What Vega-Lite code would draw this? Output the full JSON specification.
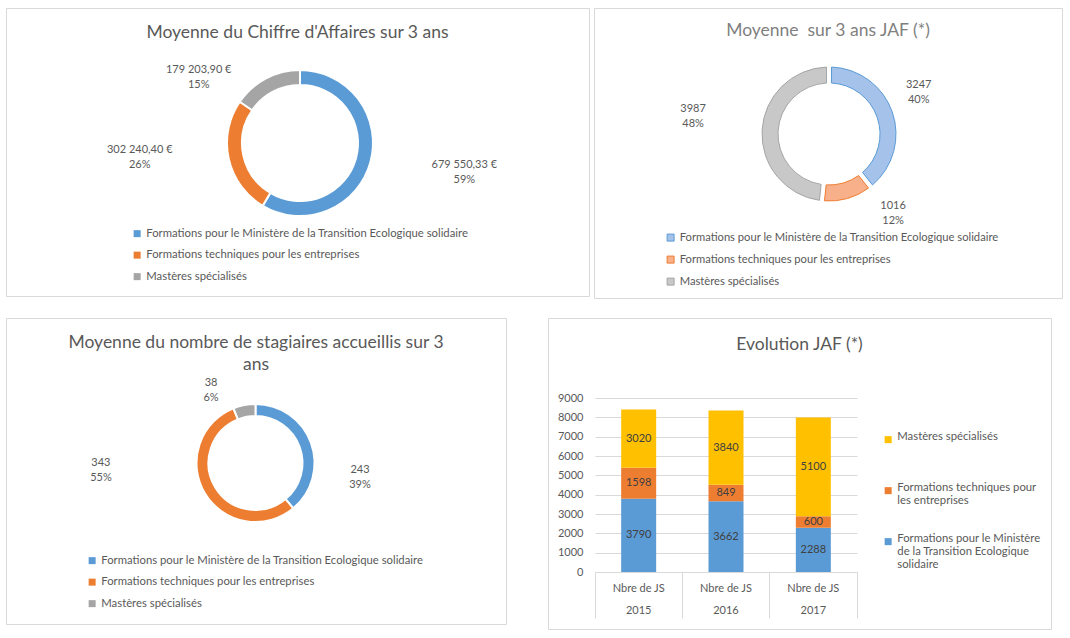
{
  "$schema": "https://vega.github.io/schema/vega-lite/v6.json",
  "background": "white",
  "padding": {"left": 5, "top": 7, "right": 0, "bottom": 0},
  "datasets": {
    "ca": [
      {"cat": "Formations pour le Ministère de la Transition Ecologique solidaire", "value": 679550.33, "pct": 0.59},
      {"cat": "Formations techniques pour les entreprises", "value": 302240.40, "pct": 0.26},
      {"cat": "Mastères spécialisés", "value": 179203.90, "pct": 0.15}
    ],
    "jaf": [
      {"cat": "Formations pour le Ministère de la Transition Ecologique solidaire", "value": 3247, "pct": 0.40},
      {"cat": "Formations techniques pour les entreprises", "value": 1016, "pct": 0.12},
      {"cat": "Mastères spécialisés", "value": 3987, "pct": 0.48}
    ],
    "stag": [
      {"cat": "Formations pour le Ministère de la Transition Ecologique solidaire", "value": 243, "pct": 0.39},
      {"cat": "Formations techniques pour les entreprises", "value": 343, "pct": 0.55},
      {"cat": "Mastères spécialisés", "value": 38, "pct": 0.06}
    ],
    "evol": [
      {"year": "2015", "cat": "Formations pour le Ministère de la Transition Ecologique solidaire", "value": 3790},
      {"year": "2015", "cat": "Formations techniques pour les entreprises", "value": 1598},
      {"year": "2015", "cat": "Mastères spécialisés", "value": 3020},
      {"year": "2016", "cat": "Formations pour le Ministère de la Transition Ecologique solidaire", "value": 3662},
      {"year": "2016", "cat": "Formations techniques pour les entreprises", "value": 849},
      {"year": "2016", "cat": "Mastères spécialisés", "value": 3840},
      {"year": "2017", "cat": "Formations pour le Ministère de la Transition Ecologique solidaire", "value": 2288},
      {"year": "2017", "cat": "Formations techniques pour les entreprises", "value": 600},
      {"year": "2017", "cat": "Mastères spécialisés", "value": 5100}
    ]
  },
  "spacing": 18,
  "resolve": {"scale": {"color": "independent", "fill": "independent", "stroke": "independent", "theta": "independent", "x": "independent", "y": "independent"}, "legend": {"color": "independent", "fill": "independent", "stroke": "independent"}},
  "vconcat": [
    {
      "spacing": 3,
      "resolve": {"scale": {"color": "independent", "fill": "independent", "stroke": "independent", "theta": "independent"}, "legend": {"color": "independent", "fill": "independent", "stroke": "independent"}},
      "hconcat": [
        {
          "width": 583, "height": 288,
          "view": {"stroke": "#D9D9D9"},
          "title": {"text": "Moyenne du Chiffre d'Affaires sur 3 ans", "offset": -33},
          "data": {"name": "ca"},
          "encoding": {
            "theta": {"field": "value", "type": "quantitative", "stack": true},
            "order": {"field": "cat", "type": "ordinal", "sort": "ascending"}
          },
          "layer": [
            {
              "mark": {"type": "arc", "innerRadius": 58, "outerRadius": 73, "stroke": "#FFFFFF", "strokeWidth": 2, "xOffset": 2.5, "yOffset": -9},
              "encoding": {
                "color": {"field": "cat", "type": "nominal",
                  "scale": {"domain": ["Formations pour le Ministère de la Transition Ecologique solidaire", "Formations techniques pour les entreprises", "Mastères spécialisés"], "range": ["#5B9BD5", "#ED7D31", "#A5A5A5"]},
                  "legend": {"orient": "none", "legendX": 125.5, "legendY": 220, "title": null, "rowPadding": 9.5}}
              }
            },
            {"mark": {"type": "text", "clip": true, "radius": 160, "xOffset": 2.5, "yOffset": -9, "dx": 10, "dy": -20.5},
             "encoding": {"detail": {"field": "cat"}, "text": {"condition": {"test": "datum.cat == 'Formations pour le Ministère de la Transition Ecologique solidaire'", "field": "value", "type": "quantitative", "format": "$,.2f"}, "value": ""}}},
            {"mark": {"type": "text", "clip": true, "radius": 160, "xOffset": 2.5, "yOffset": -9, "dx": 10, "dy": -5.5},
             "encoding": {"detail": {"field": "cat"}, "text": {"condition": {"test": "datum.cat == 'Formations pour le Ministère de la Transition Ecologique solidaire'", "field": "pct", "type": "quantitative", "format": ".0%"}, "value": ""}}},
            {"mark": {"type": "text", "clip": true, "radius": 160, "xOffset": 2.5, "yOffset": -9, "dx": -4, "dy": -27.4},
             "encoding": {"detail": {"field": "cat"}, "text": {"condition": {"test": "datum.cat == 'Formations techniques pour les entreprises'", "field": "value", "type": "quantitative", "format": "$,.2f"}, "value": ""}}},
            {"mark": {"type": "text", "clip": true, "radius": 160, "xOffset": 2.5, "yOffset": -9, "dx": -4, "dy": -12.4},
             "encoding": {"detail": {"field": "cat"}, "text": {"condition": {"test": "datum.cat == 'Formations techniques pour les entreprises'", "field": "pct", "type": "quantitative", "format": ".0%"}, "value": ""}}},
            {"mark": {"type": "text", "clip": true, "radius": 110, "xOffset": 2.5, "yOffset": -9, "dx": -50, "dy": 24.3},
             "encoding": {"detail": {"field": "cat"}, "text": {"condition": {"test": "datum.cat == 'Mastères spécialisés'", "field": "value", "type": "quantitative", "format": "$,.2f"}, "value": ""}}},
            {"mark": {"type": "text", "clip": true, "radius": 110, "xOffset": 2.5, "yOffset": -9, "dx": -50, "dy": 39.3},
             "encoding": {"detail": {"field": "cat"}, "text": {"condition": {"test": "datum.cat == 'Mastères spécialisés'", "field": "pct", "type": "quantitative", "format": ".0%"}, "value": ""}}}
          ]
        },
        {
          "width": 468, "height": 290,
          "view": {"stroke": "#D9D9D9"},
          "title": {"text": "Moyenne\u00a0 sur 3 ans JAF (*)", "offset": -31.5, "color": "#7F7F7F"},
          "data": {"name": "jaf"},
          "encoding": {
            "theta": {"field": "value", "type": "quantitative", "stack": true},
            "order": {"field": "cat", "type": "ordinal", "sort": "ascending"}
          },
          "layer": [
            {
              "mark": {"type": "arc", "innerRadius": 51, "outerRadius": 67, "padAngle": 0.06, "strokeWidth": 1, "xOffset": 1, "yOffset": -19},
              "encoding": {
                "fill": {"field": "cat", "type": "nominal",
                  "scale": {"domain": ["Formations pour le Ministère de la Transition Ecologique solidaire", "Formations techniques pour les entreprises", "Mastères spécialisés"], "range": ["#A4C2EA", "#F8B08A", "#C8C8C8"]},
                  "legend": {"orient": "none", "legendX": 71, "legendY": 224, "title": null, "rowPadding": 9, "symbolStrokeWidth": 1, "labelFontSize": 11.2}},
                "stroke": {"field": "cat", "type": "nominal",
                  "scale": {"domain": ["Formations pour le Ministère de la Transition Ecologique solidaire", "Formations techniques pour les entreprises", "Mastères spécialisés"], "range": ["#5B9BD5", "#ED7D31", "#A5A5A5"]},
                  "legend": {"orient": "none", "legendX": 71, "legendY": 224, "title": null, "rowPadding": 9, "symbolStrokeWidth": 1, "labelFontSize": 11.2}}
              }
            },
            {"mark": {"type": "text", "clip": true, "radius": 99, "xOffset": 1, "yOffset": -19, "dx": -3.8, "dy": -16.8},
             "encoding": {"detail": {"field": "cat"}, "text": {"condition": {"test": "datum.cat == 'Formations pour le Ministère de la Transition Ecologique solidaire'", "field": "value", "type": "quantitative", "format": "d"}, "value": ""}}},
            {"mark": {"type": "text", "clip": true, "radius": 99, "xOffset": 1, "yOffset": -19, "dx": -3.8, "dy": -1.8},
             "encoding": {"detail": {"field": "cat"}, "text": {"condition": {"test": "datum.cat == 'Formations pour le Ministère de la Transition Ecologique solidaire'", "field": "pct", "type": "quantitative", "format": ".0%"}, "value": ""}}},
            {"mark": {"type": "text", "clip": true, "radius": 102, "xOffset": 1, "yOffset": -19, "dx": 35.7, "dy": -26.1},
             "encoding": {"detail": {"field": "cat"}, "text": {"condition": {"test": "datum.cat == 'Formations techniques pour les entreprises'", "field": "value", "type": "quantitative", "format": "d"}, "value": ""}}},
            {"mark": {"type": "text", "clip": true, "radius": 102, "xOffset": 1, "yOffset": -19, "dx": 35.7, "dy": -11.1},
             "encoding": {"detail": {"field": "cat"}, "text": {"condition": {"test": "datum.cat == 'Formations techniques pour les entreprises'", "field": "pct", "type": "quantitative", "format": ".0%"}, "value": ""}}},
            {"mark": {"type": "text", "clip": true, "radius": 137, "xOffset": 1, "yOffset": -19, "dx": 0.9, "dy": -17.8},
             "encoding": {"detail": {"field": "cat"}, "text": {"condition": {"test": "datum.cat == 'Mastères spécialisés'", "field": "value", "type": "quantitative", "format": "d"}, "value": ""}}},
            {"mark": {"type": "text", "clip": true, "radius": 137, "xOffset": 1, "yOffset": -19, "dx": 0.9, "dy": -2.8},
             "encoding": {"detail": {"field": "cat"}, "text": {"condition": {"test": "datum.cat == 'Mastères spécialisés'", "field": "pct", "type": "quantitative", "format": ".0%"}, "value": ""}}}
          ]
        }
      ]
    },
    {
      "spacing": 40,
      "resolve": {"scale": {"color": "independent", "fill": "independent", "stroke": "independent", "theta": "independent", "x": "independent", "y": "independent"}, "legend": {"color": "independent", "fill": "independent", "stroke": "independent"}},
      "hconcat": [
        {
          "width": 500, "height": 306,
          "view": {"stroke": "#D9D9D9"},
          "title": {"text": ["Moyenne du nombre de stagiaires accueillis sur 3", "ans"], "offset": -55.5, "lineHeight": 22},
          "data": {"name": "stag"},
          "encoding": {
            "theta": {"field": "value", "type": "quantitative", "stack": true},
            "order": {"field": "cat", "type": "ordinal", "sort": "ascending"}
          },
          "layer": [
            {
              "mark": {"type": "arc", "innerRadius": 47, "outerRadius": 59, "stroke": "#FFFFFF", "strokeWidth": 2, "xOffset": -0.5, "yOffset": -8},
              "encoding": {
                "color": {"field": "cat", "type": "nominal",
                  "scale": {"domain": ["Formations pour le Ministère de la Transition Ecologique solidaire", "Formations techniques pour les entreprises", "Mastères spécialisés"], "range": ["#5B9BD5", "#ED7D31", "#A5A5A5"]},
                  "legend": {"orient": "none", "legendX": 80.5, "legendY": 237, "title": null, "rowPadding": 9.5}}
              }
            },
            {"mark": {"type": "text", "clip": true, "radius": 105.5, "xOffset": -0.5, "yOffset": -8, "dx": 5.3, "dy": 42.9},
             "encoding": {"detail": {"field": "cat"}, "text": {"condition": {"test": "datum.cat == 'Formations pour le Ministère de la Transition Ecologique solidaire'", "field": "value", "type": "quantitative", "format": "d"}, "value": ""}}},
            {"mark": {"type": "text", "clip": true, "radius": 105.5, "xOffset": -0.5, "yOffset": -8, "dx": 5.3, "dy": 57.9},
             "encoding": {"detail": {"field": "cat"}, "text": {"condition": {"test": "datum.cat == 'Formations pour le Ministère de la Transition Ecologique solidaire'", "field": "pct", "type": "quantitative", "format": ".0%"}, "value": ""}}},
            {"mark": {"type": "text", "clip": true, "radius": 154.7, "xOffset": -0.5, "yOffset": -8, "dx": -21.8, "dy": -79.4},
             "encoding": {"detail": {"field": "cat"}, "text": {"condition": {"test": "datum.cat == 'Formations techniques pour les entreprises'", "field": "value", "type": "quantitative", "format": "d"}, "value": ""}}},
            {"mark": {"type": "text", "clip": true, "radius": 154.7, "xOffset": -0.5, "yOffset": -8, "dx": -21.8, "dy": -64.4},
             "encoding": {"detail": {"field": "cat"}, "text": {"condition": {"test": "datum.cat == 'Formations techniques pour les entreprises'", "field": "pct", "type": "quantitative", "format": ".0%"}, "value": ""}}},
            {"mark": {"type": "text", "clip": true, "radius": 85.1, "xOffset": -0.5, "yOffset": -8, "dx": -28.3, "dy": 3.5},
             "encoding": {"detail": {"field": "cat"}, "text": {"condition": {"test": "datum.cat == 'Mastères spécialisés'", "field": "value", "type": "quantitative", "format": "d"}, "value": ""}}},
            {"mark": {"type": "text", "clip": true, "radius": 85.1, "xOffset": -0.5, "yOffset": -8, "dx": -28.3, "dy": 18.5},
             "encoding": {"detail": {"field": "cat"}, "text": {"condition": {"test": "datum.cat == 'Mastères spécialisés'", "field": "pct", "type": "quantitative", "format": ".0%"}, "value": ""}}}
          ]
        },
        {
          "width": 503, "height": 311,
          "title": {"text": "Evolution JAF (*)", "offset": -35.5},
          "data": {"name": "evol"},
          "encoding": {
            "x": {"field": "year", "type": "nominal",
              "scale": {"range": [47, 309], "paddingInner": 0, "paddingOuter": 0},
              "axis": {"orient": "bottom", "offset": -57, "title": null, "labelAngle": 0, "domainColor": "#D9D9D9", "tickColor": "#D9D9D9", "tickSize": 46, "bandPosition": 1, "tickExtra": true, "labelExpr": "datum.label == '' ? '' : ['Nbre de JS', datum.label]", "labelLineHeight": 22, "labelPadding": -36, "grid": false}},
            "y": {"field": "value", "type": "quantitative", "stack": "zero",
              "scale": {"domain": [0, 9000], "range": [254, 80], "nice": false},
              "axis": {"offset": -47, "title": null, "values": [0, 1000, 2000, 3000, 4000, 5000, 6000, 7000, 8000, 9000], "format": "d", "grid": true, "gridColor": "#D9D9D9", "domain": false, "ticks": false, "tickSize": 0, "labelPadding": 12}},
            "order": {"field": "cat", "type": "ordinal", "sort": "ascending"}
          },
          "layer": [
            {
              "mark": {"type": "bar", "width": 35},
              "encoding": {
                "color": {"field": "cat", "type": "nominal",
                  "scale": {"domain": ["Mastères spécialisés", "Formations techniques pour les entreprises", "Formations pour le Ministère de la Transition Ecologique solidaire"], "range": ["#FFC000", "#ED7D31", "#5B9BD5"]},
                  "legend": {"orient": "none", "legendX": 334.5, "legendY": 116, "title": null, "rowPadding": 12, "gridAlign": "all", "labelBaseline": "alphabetic", "labelLineHeight": 15.5,
                    "labelExpr": "datum.label == 'Mastères spécialisés' ? datum.label : datum.label == 'Formations techniques pour les entreprises' ? ['Formations techniques pour', 'les entreprises'] : ['Formations pour le Ministère', 'de la Transition Ecologique', 'solidaire']"}}
              }
            },
            {
              "mark": {"type": "text", "color": "#404040"},
              "encoding": {
                "y": {"field": "value", "type": "quantitative", "stack": "zero", "bandPosition": 0.5},
                "detail": {"field": "cat"},
                "text": {"field": "value", "type": "quantitative", "format": "d"}
              }
            }
          ]
        }
      ]
    }
  ],
  "config": {
    "view": {"stroke": "#D9D9D9", "strokeWidth": 1},
    "title": {"font": "Lato", "fontSize": 17.5, "fontWeight": "normal", "color": "#595959", "anchor": "middle"},
    "legend": {"labelFont": "Lato", "labelFontSize": 11.3, "labelColor": "#595959", "symbolType": "square", "symbolSize": 49, "symbolStrokeWidth": 0, "labelLimit": 600, "padding": 0, "labelOffset": 3.5},
    "axis": {"labelFont": "Lato", "labelFontSize": 11, "labelColor": "#595959"},
    "text": {"font": "Lato", "fontSize": 11, "color": "#595959", "align": "center", "baseline": "middle"},
    "locale": {"number": {"decimal": ",", "thousands": " ", "grouping": [3], "currency": ["", " €"]}}
  }
}
